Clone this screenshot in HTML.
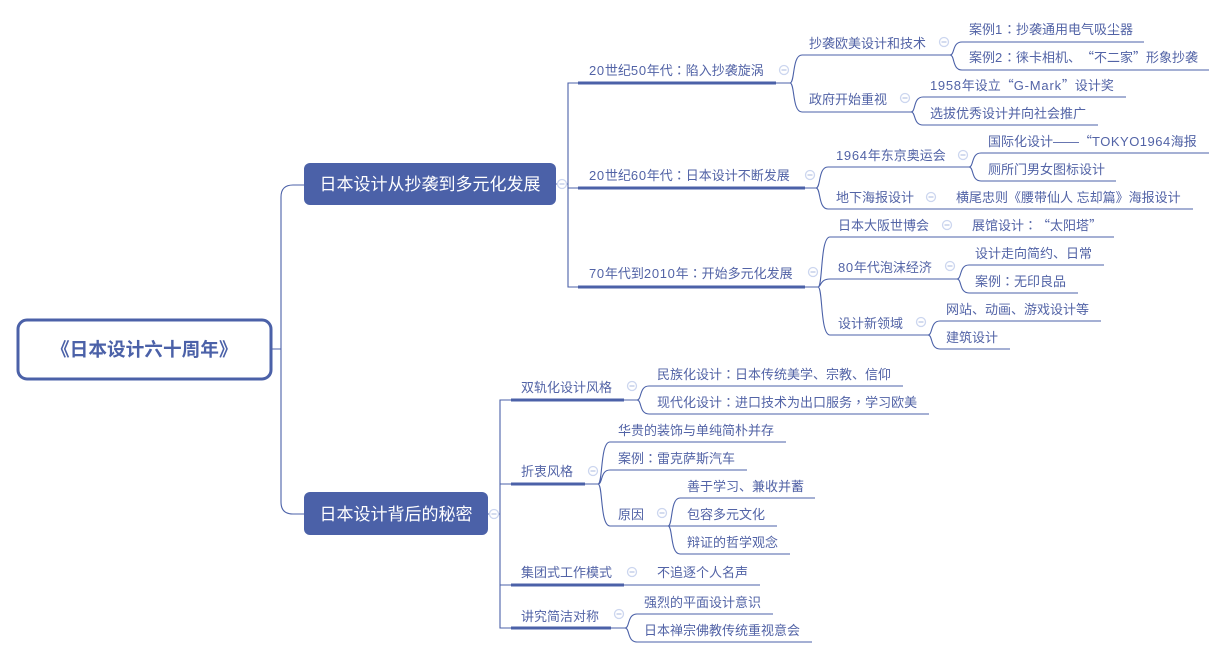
<!DOCTYPE html>
<html>
<head>
<meta charset="utf-8">
<style>
html,body{margin:0;padding:0;background:#fff;width:1226px;height:658px;overflow:hidden}
svg{display:block}
text{font-family:"Liberation Sans","Noto Sans CJK SC",sans-serif;font-size:13px;fill:#5263a6;text-spacing-trim:space-all}
.p{font-family:"Noto Sans CJK TC",sans-serif}
.q{font-family:"Noto Sans CJK SC",sans-serif}
.n{letter-spacing:.7px}
.m{letter-spacing:.5px}
.g{letter-spacing:.8px}
.l{fill:none;stroke:#4b61a8;stroke-width:1.1}
.t{fill:none;stroke:#4b61a8;stroke-width:3}
.c circle{fill:#fff;stroke:#ccd6ef;stroke-width:1.3}
.c path{stroke:#a9b8df;stroke-width:1;fill:none}
</style>
</head>
<body>
<svg width="1226" height="658" viewBox="0 0 1226 658" xmlns="http://www.w3.org/2000/svg">
<!-- root connectors -->
<path class="l" d="M271 349H281M304 185H293Q281 185 281 197V502Q281 514 293 514H304"/>
<!-- main 1 trunk -->
<path class="l" d="M556 184H568M578 83H568V287H578M568 188H578"/>
<path class="t" d="M578 83H776M578 188H805M578 287H805"/>
<!-- 50s -->
<path class="l" d="M776 83H790C795 83 792 55 802 55H950M776 83H790C795 83 792 112 802 112H911"/>
<path class="l" d="M950 55C955 55 952 42 962 42H1144M950 55C955 55 952 70 962 70H1209"/>
<path class="l" d="M911 112C916 112 913 97 923 97H1126M911 112C916 112 913 125 923 125H1098"/>
<!-- 60s -->
<path class="l" d="M805 188H816C821 188 818 167 828 167H969M816 188C821 188 818 209 828 209H1193"/>
<path class="l" d="M969 167C974 167 971 153 981 153H1209M969 167C974 167 971 181 981 181H1116"/>
<!-- 70s -->
<path class="l" d="M805 287H818C823 287 820 237 830 237H1114M818 287C821 287 820 279 830 279H957M818 287C823 287 820 335 830 335H928"/>
<path class="l" d="M957 279C962 279 959 265 969 265H1104M957 279C962 279 959 293 969 293H1078"/>
<path class="l" d="M928 335C933 335 930 321 940 321H1101M928 335C933 335 930 349 940 349H1010"/>
<!-- main 2 trunk -->
<path class="l" d="M488 514H500M511 400H500V628H511M500 484H511M500 585H511"/>
<path class="t" d="M511 400H624M511 484H585M511 585H624M511 628H611"/>
<path class="l" d="M624 400H637C642 400 639 386 649 386H903M637 400C642 400 639 414 649 414H929"/>
<path class="l" d="M585 484H598C603 484 600 442 610 442H786M598 484C603 484 600 470 610 470H747M598 484C603 484 600 526 610 526H668"/>
<path class="l" d="M668 526C673 526 670 498 680 498H815M668 526H777M668 526C673 526 670 554 680 554H790"/>
<path class="l" d="M624 585H760"/>
<path class="l" d="M611 628H625C630 628 627 614 637 614H773M625 628C630 628 627 642 637 642H812"/>
<!-- boxes -->
<rect x="18" y="320" width="253" height="59" rx="9" fill="#fff" stroke="#4b61a8" stroke-width="3"/>
<rect x="304" y="163" width="252" height="42" rx="6" fill="#4b61a8"/>
<rect x="304" y="492" width="184" height="43" rx="6" fill="#4b61a8"/>
<text x="51" y="356" style="font-size:18.67px;font-weight:700;fill:#4b61a8">《日本设计六十周年》</text>
<text x="319.500" y="190" style="font-size:17px;fill:#fff">日本设计从抄袭到多元化发展</text>
<text x="319.500" y="520" style="font-size:17px;fill:#fff">日本设计背后的秘密</text>
<!-- collapse circles -->
<g class="c">
<circle cx="562" cy="184" r="4.5"/><path d="M559.5 184H564.5"/>
<circle cx="494" cy="514" r="4.5"/><path d="M491.5 514H496.5"/>
<circle cx="784" cy="70" r="4.5"/><path d="M781.5 70H786.5"/>
<circle cx="944" cy="42" r="4.5"/><path d="M941.5 42H946.5"/>
<circle cx="905" cy="98" r="4.5"/><path d="M902.5 98H907.5"/>
<circle cx="810" cy="175" r="4.5"/><path d="M807.5 175H812.5"/>
<circle cx="963" cy="155" r="4.5"/><path d="M960.5 155H965.5"/>
<circle cx="931" cy="197" r="4.5"/><path d="M928.5 197H933.5"/>
<circle cx="813" cy="272" r="4.5"/><path d="M810.5 272H815.5"/>
<circle cx="947" cy="225" r="4.5"/><path d="M944.5 225H949.5"/>
<circle cx="950" cy="266" r="4.5"/><path d="M947.5 266H952.5"/>
<circle cx="921" cy="322" r="4.5"/><path d="M918.5 322H923.5"/>
<circle cx="632" cy="386" r="4.5"/><path d="M629.5 386H634.5"/>
<circle cx="593" cy="471" r="4.5"/><path d="M590.5 471H595.5"/>
<circle cx="662" cy="513" r="4.5"/><path d="M659.5 513H664.5"/>
<circle cx="632" cy="572" r="4.5"/><path d="M629.5 572H634.5"/>
<circle cx="619" cy="614" r="4.5"/><path d="M616.5 614H621.5"/>
</g>
<!-- labels -->
<text x="589" y="75"><tspan class="n">20</tspan>世纪<tspan class="n">50</tspan>年代<tspan class="p">：</tspan>陷入抄袭旋涡</text>
<text x="589" y="180"><tspan class="n">20</tspan>世纪<tspan class="n">60</tspan>年代<tspan class="p">：</tspan>日本设计不断发展</text>
<text x="589" y="278"><tspan class="n">70</tspan>年代到<tspan class="n">2010</tspan>年<tspan class="p">：</tspan>开始多元化发展</text>
<text x="809" y="48">抄袭欧美设计和技术</text>
<text x="809" y="104">政府开始重视</text>
<text x="969" y="34">案例<tspan class="n">1</tspan><tspan class="p">：</tspan>抄袭通用电气吸尘器</text>
<text x="969" y="62">案例<tspan class="n">2</tspan><tspan class="p">：</tspan>徕卡相机、<tspan class="q">“</tspan>不二家<tspan class="q">”</tspan>形象抄袭</text>
<text x="930" y="90"><tspan class="n">1958</tspan>年设立<tspan class="q">“</tspan><tspan class="g">G-Mark</tspan><tspan class="q">”</tspan>设计奖</text>
<text x="930" y="118">选拔优秀设计并向社会推广</text>
<text x="836" y="160"><tspan class="n">1964</tspan>年东京奥运会</text>
<text x="836" y="202">地下海报设计</text>
<text x="988" y="146">国际化设计——<tspan class="q">“</tspan><tspan class="m">TOKYO1964</tspan>海报</text>
<text x="988" y="174">厕所门男女图标设计</text>
<text x="956" y="202">横尾忠则《腰带仙人 忘却篇》海报设计</text>
<text x="838" y="230">日本大阪世博会</text>
<text x="838" y="272"><tspan class="n">80</tspan>年代泡沫经济</text>
<text x="838" y="328">设计新领域</text>
<text x="972" y="230">展馆设计<tspan class="p">：</tspan><tspan class="q">“</tspan>太阳塔<tspan class="q">”</tspan></text>
<text x="975" y="258">设计走向简约、日常</text>
<text x="975" y="286">案例<tspan class="p">：</tspan>无印良品</text>
<text x="946" y="314">网站、动画、游戏设计等</text>
<text x="946" y="342">建筑设计</text>
<text x="521" y="392">双轨化设计风格</text>
<text x="657" y="379">民族化设计<tspan class="p">：</tspan>日本传统美学、宗教、信仰</text>
<text x="657" y="407">现代化设计<tspan class="p">：</tspan>进口技术为出口服务<tspan class="p">，</tspan>学习欧美</text>
<text x="521" y="476">折衷风格</text>
<text x="618" y="435">华贵的装饰与单纯简朴并存</text>
<text x="618" y="463">案例<tspan class="p">：</tspan>雷克萨斯汽车</text>
<text x="618" y="519">原因</text>
<text x="687" y="491">善于学习、兼收并蓄</text>
<text x="687" y="519">包容多元文化</text>
<text x="687" y="547">辩证的哲学观念</text>
<text x="521" y="577">集团式工作模式</text>
<text x="657" y="577">不追逐个人名声</text>
<text x="521" y="621">讲究简洁对称</text>
<text x="644" y="607">强烈的平面设计意识</text>
<text x="644" y="635">日本禅宗佛教传统重视意会</text>
</svg>
</body>
</html>
